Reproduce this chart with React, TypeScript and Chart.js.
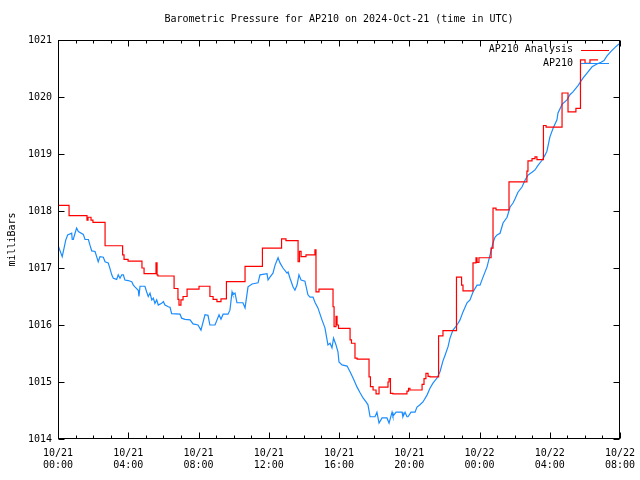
import React, { useEffect, useRef } from "react";
import { Chart, registerables } from "chart.js";

Chart.register(...registerables);

const TITLE = "Barometric Pressure for AP210 on 2024-Oct-21 (time in UTC)";
const Y_TITLE = "milliBars";
const SERIES_NAMES = ["AP210 Analysis", "AP210"];
const SERIES_COLORS = ["#ff0000", "#1a8cff"];
const X_TICK_LABELS = [
  "10/21 00:00", "10/21 04:00", "10/21 08:00", "10/21 12:00", "10/21 16:00",
  "10/21 20:00", "10/22 00:00", "10/22 04:00", "10/22 08:00",
];
const X_MIN = 0, X_MAX = 32, X_MAJOR = 4, X_MINOR = 1;
const Y_MIN = 1014, Y_MAX = 1021, Y_STEP = 1;
const FONT = "'DejaVu Sans Mono', 'Liberation Mono', monospace";

// hours since 2024-10-21 00:00 UTC (value holds until next change)
const analysisHours = [
  0.00, 0.63, 1.65, 1.71, 1.88, 1.99, 2.68, 3.68, 3.76, 3.99, 4.78, 4.90, 5.58, 5.64, 5.69,
  6.61, 6.83, 6.89, 7.00, 7.12, 7.35, 8.03, 8.65, 8.83, 9.05, 9.28, 9.59, 10.65, 11.64,
  12.73, 12.98, 13.67, 13.75, 13.84, 14.12, 14.63, 14.69, 14.86, 15.66, 15.72, 15.83, 15.89,
  15.97, 16.63, 16.71, 16.91, 17.03, 17.71, 17.79, 17.94, 18.11, 18.28, 18.79, 18.85, 18.93,
  19.07, 19.87, 19.96, 20.04, 20.73, 20.84, 20.95, 21.07, 21.18, 21.67, 21.92, 22.69, 22.98,
  23.06, 23.63, 23.80, 23.86, 23.97, 24.66, 24.77, 24.94, 25.68, 26.70, 26.76, 26.99, 27.16,
  27.27, 27.64, 27.79, 28.70, 29.04, 29.49, 29.75, 30.01, 30.29, 30.75,
];
const analysisMbar = [
  1018.10, 1017.92, 1017.84, 1017.89, 1017.84, 1017.80, 1017.39, 1017.23, 1017.15, 1017.12,
  1017.00, 1016.90, 1017.09, 1016.88, 1016.86, 1016.64, 1016.45, 1016.35, 1016.44, 1016.50,
  1016.63, 1016.68, 1016.50, 1016.45, 1016.41, 1016.46, 1016.76, 1017.03, 1017.35, 1017.51,
  1017.48, 1017.11, 1017.29, 1017.20, 1017.23, 1017.32, 1016.58, 1016.63, 1016.32, 1015.97,
  1016.15, 1016.00, 1015.94, 1015.74, 1015.68, 1015.42, 1015.40, 1015.09, 1014.92, 1014.86,
  1014.79, 1014.91, 1015.00, 1015.06, 1014.80, 1014.79, 1014.84, 1014.89, 1014.86, 1014.96,
  1015.06, 1015.15, 1015.10, 1015.09, 1015.81, 1015.90, 1016.84, 1016.70, 1016.60, 1017.09,
  1017.18, 1017.10, 1017.18, 1017.35, 1018.05, 1018.02, 1018.51, 1018.70, 1018.88, 1018.92,
  1018.95, 1018.90, 1019.50, 1019.47, 1020.07, 1019.74, 1019.80, 1020.65, 1020.59, 1020.65,
  1020.65,
];

const stationHours = [
  0.00, 0.24, 0.36, 0.44, 0.55, 0.78, 0.81, 0.87, 0.97, 1.06, 1.16, 1.44, 1.54, 1.73, 1.82,
  1.92, 2.11, 2.20, 2.29, 2.39, 2.58, 2.68, 2.86, 2.96, 3.06, 3.15, 3.34, 3.43, 3.53, 3.63,
  3.72, 3.81, 4.00, 4.20, 4.29, 4.38, 4.57, 4.61, 4.67, 4.95, 5.05, 5.14, 5.24, 5.34, 5.43,
  5.52, 5.62, 5.71, 5.90, 6.00, 6.09, 6.28, 6.38, 6.47, 6.95, 7.04, 7.23, 7.52, 7.69, 7.97,
  8.14, 8.37, 8.54, 8.65, 8.94, 9.17, 9.28, 9.40, 9.68, 9.79, 9.91, 9.96, 10.08, 10.19,
  10.53, 10.65, 10.82, 11.05, 11.39, 11.50, 11.90, 11.96, 12.07, 12.24, 12.36, 12.53, 12.64,
  12.81, 13.04, 13.10, 13.21, 13.38, 13.49, 13.61, 13.72, 13.84, 14.06, 14.23, 14.35, 14.52,
  14.63, 14.80, 15.03, 15.20, 15.37, 15.49, 15.60, 15.69, 15.83, 15.94, 16.00, 16.17, 16.46,
  16.63, 16.80, 17.03, 17.20, 17.37, 17.54, 17.65, 17.77, 18.05, 18.16, 18.28, 18.45, 18.73,
  18.85, 19.02, 19.07, 19.25, 19.59, 19.64, 19.76, 19.87, 19.93, 20.10, 20.33, 20.44, 20.61,
  20.78, 21.01, 21.18, 21.35, 21.58, 21.75, 21.92, 22.04, 22.21, 22.32, 22.49, 22.72, 22.89,
  23.06, 23.29, 23.46, 23.63, 23.86, 24.03, 24.20, 24.43, 24.60, 24.77, 24.88, 25.00, 25.17,
  25.34, 25.57, 25.74, 25.91, 26.02, 26.19, 26.42, 26.59, 26.76, 26.99, 27.16, 27.33, 27.56,
  27.73, 27.84, 28.01, 28.19, 28.41, 28.47, 28.70, 28.98, 29.15, 29.32, 29.61, 29.89, 30.18,
  30.41, 30.69, 30.92, 31.09, 31.26, 31.49, 31.72, 31.94,
];
const stationMbar = [
  1017.40, 1017.20, 1017.37, 1017.49, 1017.58, 1017.61, 1017.50, 1017.50, 1017.61, 1017.70,
  1017.64, 1017.59, 1017.50, 1017.50, 1017.40, 1017.30, 1017.29, 1017.20, 1017.11, 1017.20,
  1017.19, 1017.11, 1017.09, 1016.99, 1016.88, 1016.82, 1016.80, 1016.88, 1016.82, 1016.88,
  1016.88, 1016.79, 1016.78, 1016.76, 1016.70, 1016.67, 1016.61, 1016.50, 1016.68, 1016.68,
  1016.58, 1016.50, 1016.56, 1016.44, 1016.47, 1016.38, 1016.44, 1016.35, 1016.38, 1016.41,
  1016.35, 1016.32, 1016.31, 1016.20, 1016.19, 1016.12, 1016.10, 1016.09, 1016.02, 1016.00,
  1015.91, 1016.18, 1016.17, 1016.00, 1016.00, 1016.18, 1016.10, 1016.19, 1016.19, 1016.26,
  1016.58, 1016.53, 1016.56, 1016.39, 1016.39, 1016.30, 1016.67, 1016.72, 1016.74, 1016.88,
  1016.90, 1016.79, 1016.84, 1016.91, 1017.05, 1017.18, 1017.09, 1017.00, 1016.91, 1016.93,
  1016.82, 1016.67, 1016.61, 1016.70, 1016.88, 1016.79, 1016.77, 1016.53, 1016.49, 1016.49,
  1016.40, 1016.30, 1016.09, 1015.95, 1015.65, 1015.68, 1015.60, 1015.77, 1015.65, 1015.53,
  1015.35, 1015.30, 1015.28, 1015.18, 1015.07, 1014.91, 1014.81, 1014.72, 1014.65, 1014.60,
  1014.39, 1014.39, 1014.47, 1014.28, 1014.37, 1014.37, 1014.28, 1014.47, 1014.40, 1014.47,
  1014.47, 1014.39, 1014.47, 1014.39, 1014.39, 1014.47, 1014.47, 1014.56, 1014.60, 1014.65,
  1014.77, 1014.89, 1014.98, 1015.07, 1015.18, 1015.37, 1015.47, 1015.62, 1015.77, 1015.91,
  1016.00, 1016.09, 1016.23, 1016.39, 1016.44, 1016.58, 1016.70, 1016.70, 1016.84, 1017.02,
  1017.23, 1017.44, 1017.54, 1017.58, 1017.61, 1017.79, 1017.89, 1018.07, 1018.14, 1018.21,
  1018.33, 1018.42, 1018.54, 1018.63, 1018.68, 1018.72, 1018.80, 1018.89, 1018.98, 1019.05,
  1019.30, 1019.45, 1019.60, 1019.72, 1019.87, 1019.95, 1020.04, 1020.09, 1020.20, 1020.33,
  1020.44, 1020.53, 1020.58, 1020.61, 1020.64, 1020.72, 1020.80, 1020.87, 1020.93,
];

const framePlugin = {
  id: "gnuFrame",
  afterDatasetsDraw(chart: any) {
    const { ctx, chartArea: a, scales } = chart;
    const xs = scales.x;
    const ys = scales.y;
    const L = Math.round(a.left) + 0.5;
    const R = Math.round(a.right) - 0.5;
    const T = Math.round(a.top) + 0.5;
    const B = Math.round(a.bottom) - 0.5;
    ctx.save();
    ctx.strokeStyle = "#000";
    ctx.lineWidth = 1;
    ctx.beginPath();
    for (let h = X_MIN; h <= X_MAX; h += X_MINOR) {
      const px = Math.round(xs.getPixelForValue(h)) + 0.5;
      const len = h % X_MAJOR === 0 ? 6 : 3;
      ctx.moveTo(px, B);
      ctx.lineTo(px, B - len);
      ctx.moveTo(px, T);
      ctx.lineTo(px, T + len);
    }
    for (let v = Y_MIN; v <= Y_MAX; v += Y_STEP) {
      const py = Math.round(ys.getPixelForValue(v)) + 0.5;
      ctx.moveTo(L, py);
      ctx.lineTo(L + 6, py);
      ctx.moveTo(R, py);
      ctx.lineTo(R - 6, py);
    }
    ctx.stroke();
    ctx.strokeRect(L, T, R - L, B - T);

    ctx.fillStyle = "#000";
    ctx.font = `10px ${FONT}`;
    ctx.textBaseline = "middle";
    ctx.textAlign = "center";
    ctx.fillText(TITLE, (a.left + a.right) / 2, 19);

    ctx.save();
    ctx.translate(12, (a.top + a.bottom) / 2);
    ctx.rotate(-Math.PI / 2);
    ctx.fillText(Y_TITLE, 0, 0);
    ctx.restore();

    ctx.textAlign = "right";
    SERIES_NAMES.forEach((name, i) => {
      const ly = a.top + 9.5 + i * 13.5;
      ctx.fillStyle = "#000";
      ctx.fillText(name, a.right - 47, ly);
      ctx.strokeStyle = SERIES_COLORS[i];
      ctx.beginPath();
      ctx.moveTo(a.right - 39, Math.round(ly) + 0.5);
      ctx.lineTo(a.right - 11, Math.round(ly) + 0.5);
      ctx.stroke();
    });
    ctx.restore();
  },
};

export default function App() {
  const ref = useRef<HTMLCanvasElement>(null);
  useEffect(() => {
    if (!ref.current) return;
    const analysis = analysisHours.map((h, i) => ({ x: h, y: analysisMbar[i] }));
    const station = stationHours.map((h, i) => ({ x: h, y: stationMbar[i] }));
    const chart = new Chart(ref.current, {
      type: "line",
      data: {
        datasets: [
          {
            label: SERIES_NAMES[0],
            data: analysis,
            borderColor: SERIES_COLORS[0],
            borderWidth: 1.2,
            pointRadius: 0,
            stepped: true,
            fill: false,
          },
          {
            label: SERIES_NAMES[1],
            data: station,
            borderColor: SERIES_COLORS[1],
            borderWidth: 1.2,
            pointRadius: 0,
            tension: 0,
            fill: false,
          },
        ],
      },
      options: {
        animation: false,
        responsive: false,
        devicePixelRatio: 1,
        layout: { padding: { top: 40, right: 20, left: 0, bottom: 0 } },
        plugins: { legend: { display: false }, tooltip: { enabled: false }, title: { display: false } },
        scales: {
          x: {
            type: "linear",
            min: X_MIN,
            max: X_MAX,
            grid: { display: false, drawTicks: false },
            border: { display: false },
            ticks: {
              stepSize: X_MAJOR,
              autoSkip: false,
              maxRotation: 0,
              padding: 8,
              color: "#000",
              font: { family: FONT, size: 10 },
              callback: (v: any) => {
                const idx = Math.round(Number(v) / X_MAJOR);
                const lbl = X_TICK_LABELS[idx];
                return lbl ? lbl.split(" ") : "";
              },
            },
            afterFit: (s: any) => {
              s.height = 41;
              s.paddingLeft = 0;
              s.paddingRight = 0;
            },
          },
          y: {
            min: Y_MIN,
            max: Y_MAX,
            grid: { display: false, drawTicks: false },
            border: { display: false },
            ticks: {
              stepSize: Y_STEP,
              padding: 6,
              color: "#000",
              font: { family: FONT, size: 10 },
              callback: (v: any) => String(v),
            },
            afterFit: (s: any) => {
              s.width = 58;
              s.paddingTop = 0;
              s.paddingBottom = 0;
            },
          },
        },
      },
      plugins: [framePlugin],
    });
    return () => chart.destroy();
  }, []);
  return (
    <div style={{ position: "fixed", left: 0, top: 0, width: 640, height: 480, background: "#fff" }}>
      <canvas ref={ref} width={640} height={480} style={{ width: 640, height: 480 }} />
    </div>
  );
}
